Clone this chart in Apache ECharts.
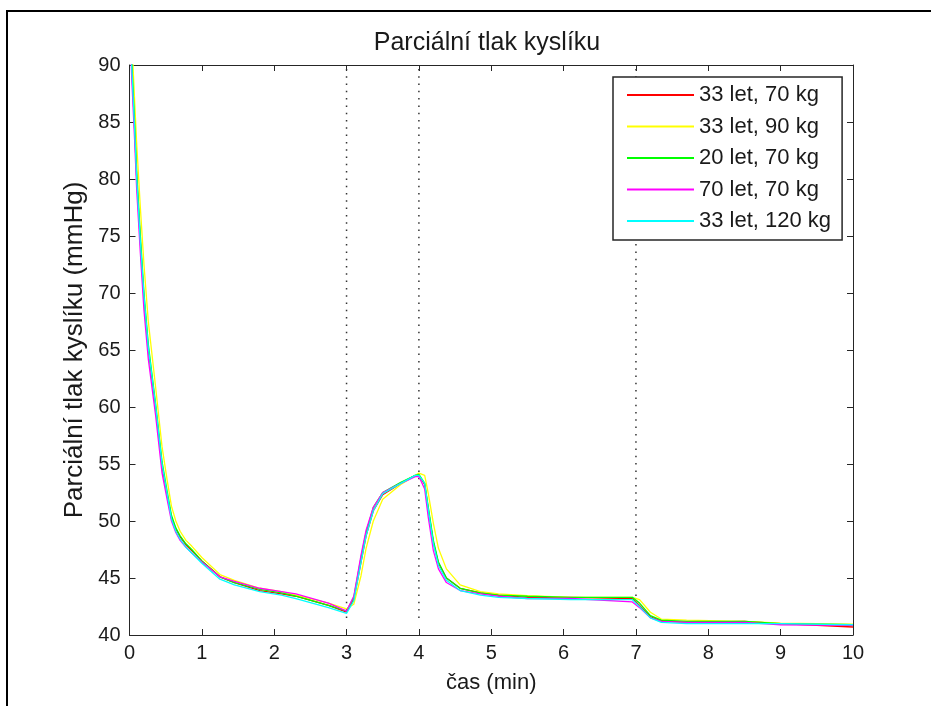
<!DOCTYPE html>
<html>
<head>
<meta charset="utf-8">
<script src="https://cdn.jsdelivr.net/npm/echarts@6/dist/echarts.min.js"></script>
<style>html,body{margin:0;padding:0;background:#fff;}#c{width:931px;height:706px;}</style>
</head>
<body>
<div id="c"></div>
<script>
var titleText = 'Parciální tlak kyslíku';
var xName = 'čas (min)';
var yName = 'Parciální tlak kyslíku (mmHg)';
var seriesNames = ['33 let, 70 kg', '33 let, 90 kg', '20 let, 70 kg', '70 let, 70 kg', '33 let, 120 kg'];
var seriesColors = ['#ff0000', '#ffff00', '#00ff00', '#ff00ff', '#00ffff'];
var markerTimes = [3, 4, 7];
var markerRange = [41.5, 90];

var time = [0, 0.03, 0.07, 0.1, 0.15, 0.2, 0.26, 0.36, 0.45, 0.52, 0.58, 0.64, 0.7, 0.78, 0.86, 1.0, 1.25, 1.45, 1.8, 2.1, 2.3, 2.75, 3.0,
  3.1, 3.2, 3.27, 3.37, 3.5, 3.75, 3.95, 4.0, 4.08, 4.13, 4.2, 4.27, 4.38, 4.57, 4.85, 5.1, 5.5, 6.1, 6.95, 7.05,
  7.2, 7.35, 7.7, 8.5, 9.0, 10.0];

var red = [95, 90, 84.5, 80, 74.5, 69.5, 65, 60, 54.8, 52.3, 50.3, 49.3, 48.6, 47.9, 47.4, 46.5, 45.1, 44.6, 43.9, 43.6, 43.4, 42.6, 42.0,
  43.1, 46.4, 48.7, 50.9, 52.3, 53.3, 54.0, 54.0, 53.2, 51.0, 48.1, 46.3, 45.0, 44.1, 43.7, 43.5, 43.3, 43.3, 43.2, 42.6,
  41.6, 41.25, 41.1, 41.2, 41.0, 40.7];
var yellow = [97, 92.5, 87, 83, 77.5, 72.5, 67.5, 61.8, 56.5, 53.6, 51.3, 50.0, 49.1, 48.3, 47.8, 46.8, 45.3, 44.8, 44.1, 43.8, 43.5, 42.8, 42.3,
  42.7, 45.2, 47.6, 50.0, 51.9, 53.2, 54.0, 54.2, 54.0, 52.4, 49.8, 47.6, 45.8, 44.4, 43.8, 43.6, 43.45, 43.3, 43.3, 43.1,
  42.0, 41.4, 41.3, 41.2, 41.05, 40.95];
var green = [95.5, 90.5, 85, 80.5, 75, 70, 65.5, 60.3, 55.2, 52.6, 50.5, 49.4, 48.7, 48.0, 47.5, 46.5, 45.1, 44.6, 44.0, 43.7, 43.4, 42.6, 42.1,
  43.3, 46.8, 49.0, 51.2, 52.5, 53.4, 54.0, 54.1, 53.3, 51.2, 48.3, 46.4, 45.0, 44.1, 43.7, 43.5, 43.4, 43.3, 43.3, 42.8,
  41.7, 41.3, 41.2, 41.2, 41.0, 40.9];
var magenta = [94, 89, 83.5, 79, 73.5, 68.5, 64.2, 59.3, 54.2, 51.9, 50.0, 49.0, 48.3, 47.7, 47.2, 46.4, 45.1, 44.7, 44.1, 43.8, 43.6, 42.8, 42.1,
  43.4, 47.0, 49.2, 51.2, 52.5, 53.3, 53.9, 53.9, 52.8, 50.3, 47.4, 45.8, 44.6, 43.9, 43.6, 43.4, 43.2, 43.2, 42.9, 42.4,
  41.5, 41.2, 41.1, 41.1, 40.9, 40.85];
var cyan = [95, 90, 84.5, 80, 74.5, 69.8, 65.2, 60.2, 55, 52.4, 50.2, 49.1, 48.4, 47.7, 47.2, 46.3, 44.9, 44.4, 43.8, 43.5, 43.2, 42.4, 41.9,
  43.0, 46.4, 48.7, 50.9, 52.4, 53.3, 54.0, 54.0, 53.3, 51.0, 48.0, 46.1, 44.8, 43.9, 43.5, 43.3, 43.2, 43.1, 43.1, 42.5,
  41.5, 41.1, 41.0, 41.0, 41.0, 40.9];

var values = [red, yellow, green, magenta, cyan];
var font = 'Liberation Sans, Arial, sans-serif';
var txt = '#1a1a1a';
var axisLineStyle = {color: '#262626', width: 1};

var series = values.map(function (v, i) {
  return {
    name: seriesNames[i], type: 'line', symbol: 'none', clip: true,
    data: time.map(function (t, k) { return [t, v[k]]; }),
    lineStyle: {color: seriesColors[i], width: 1.3},
    itemStyle: {color: seriesColors[i]},
    z: 3 + i
  };
});
markerTimes.forEach(function (t) {
  series.push({
    type: 'line', symbol: 'none', silent: true,
    data: [[t, markerRange[0]], [t, markerRange[1]]],
    lineStyle: {color: '#333', width: 1.5, type: [1.5, 5.8]},
    z: 2
  });
});

var chart = echarts.init(document.getElementById('c'), null, {renderer: 'canvas'});
chart.setOption({
  animation: false,
  backgroundColor: '#fff',
  title: {text: titleText, left: 482, textAlign: 'center', top: 26,
    textStyle: {fontFamily: font, fontSize: 25, fontWeight: 'normal', color: txt}},
  grid: {left: 129.5, right: 78, top: 65, bottom: 71, containLabel: false, show: false},
  legend: {
    data: seriesNames.map(function (n) { return {name: n, icon: 'rect'}; }),
    orient: 'vertical', left: 613, top: 77,
    itemWidth: 67, itemHeight: 2, itemGap: 9.5, padding: [7, 11, 8, 14],
    backgroundColor: '#fff', borderColor: '#262626', borderWidth: 1.5,
    textStyle: {fontFamily: font, fontSize: 22, color: txt, lineHeight: 22, padding: [0, 0, 0, 0]},
    selectedMode: false
  },
  xAxis: [{
    type: 'value', min: 0, max: 10, interval: 1,
    name: xName, nameLocation: 'middle', nameGap: 37,
    nameTextStyle: {fontFamily: font, fontSize: 22, color: txt},
    axisLine: {show: true, onZero: false, lineStyle: axisLineStyle},
    axisTick: {show: true, inside: true, length: 6, lineStyle: axisLineStyle},
    axisLabel: {fontFamily: font, fontSize: 20, color: txt, margin: 8},
    splitLine: {show: false}
  }, {
    type: 'value', min: 0, max: 10, interval: 1, position: 'top',
    axisLine: {show: true, onZero: false, lineStyle: axisLineStyle},
    axisTick: {show: true, inside: true, length: 6, lineStyle: axisLineStyle},
    axisLabel: {show: false}, splitLine: {show: false}
  }],
  yAxis: [{
    type: 'value', min: 40, max: 90, interval: 5,
    name: yName, nameLocation: 'middle', nameGap: 42, nameRotate: 90,
    nameTextStyle: {fontFamily: font, fontSize: 26, color: txt},
    axisLine: {show: true, onZero: false, lineStyle: axisLineStyle},
    axisTick: {show: true, inside: true, length: 6, lineStyle: axisLineStyle},
    axisLabel: {fontFamily: font, fontSize: 20, color: txt, margin: 9},
    splitLine: {show: false}
  }, {
    type: 'value', min: 40, max: 90, interval: 5, position: 'right',
    axisLine: {show: true, onZero: false, lineStyle: axisLineStyle},
    axisTick: {show: true, inside: true, length: 6, lineStyle: axisLineStyle},
    axisLabel: {show: false}, splitLine: {show: false}
  }],
  graphic: [{
    type: 'polyline', silent: true, z: 100,
    shape: {points: [[7, 720], [7, 11], [940, 11]]},
    style: {fill: null, stroke: '#000', lineWidth: 2}
  }],
  series: series
});
</script>
</body>
</html>
